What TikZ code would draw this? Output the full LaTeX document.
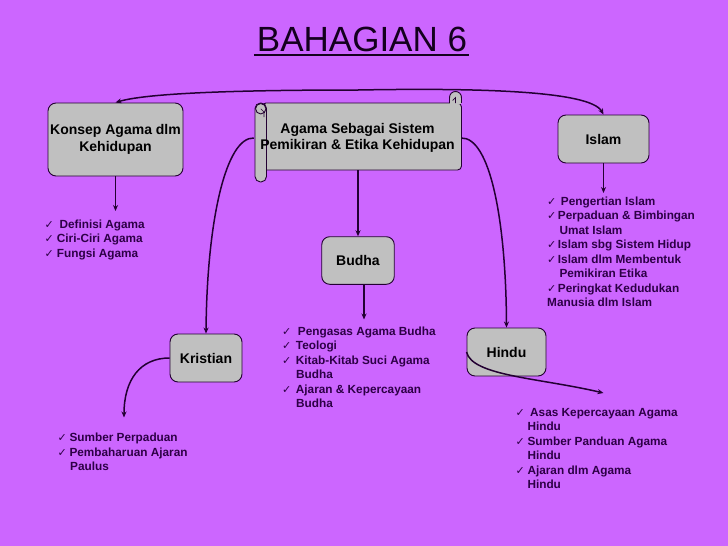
\documentclass[tikz,border=0pt]{standalone}
\usepackage{fontspec}
\setmainfont{Liberation Sans}
\newfontfamily\dejavu{DejaVu Sans}
\usetikzlibrary{arrows.meta}
\definecolor{bg}{RGB}{204,102,255}
\definecolor{boxgray}{RGB}{192,192,192}
\definecolor{ln}{RGB}{35,0,50}
\definecolor{txt}{RGB}{45,0,70}
\definecolor{ttl}{RGB}{20,0,30}
\newcommand\chk{{\dejavu\fontsize{11}{11}\selectfont ✓}}
\newcommand\itm[1]{\chk\hspace{#1pt}}
\begin{document}
\begin{tikzpicture}[x=1pt,y=-1pt,
 box/.style={draw=ln, line width=0.9pt, fill=boxgray, rounded corners=8pt, text=black,
   font=\fontsize{14}{16.5}\selectfont\bfseries, align=center, inner sep=0pt},
 conn/.style={draw=ln, line width=1.5pt},
 arr/.style={conn, -{Stealth[length=6pt,width=5pt]}},
 listtxt/.style={anchor=north west, inner sep=0pt, align=left, text=txt,
   font=\fontsize{11.8}{14.5}\selectfont\bfseries},
 scrollpart/.style={fill=boxgray, draw=ln, line width=0.9pt}]

\fill[bg] (0,0) rectangle (728,546);
\useasboundingbox (0,0) rectangle (728,546);

% title
\node[anchor=base, inner sep=0pt, text=ttl, font=\fontsize{35}{40}\selectfont] (title) at (362,51.7) {BAHAGIAN 6};
\draw[ttl, line width=2pt] ([xshift=-3pt,yshift=-3.5pt]title.base west) -- ([xshift=2pt,yshift=-3.5pt]title.base east);

% scroll shape
\filldraw[scrollpart, rounded corners=4pt] (262,103) -- (461.5,103) -- (461.5,170) -- (262,170) -- cycle;
\filldraw[scrollpart] (455.5,97.5) circle[radius=6];
\fill[boxgray] (450,97.5) rectangle (461,103.6);
\draw[ln, line width=0.9pt] (449.5,97.5) -- (449.5,103) (461.5,97.5) -- (461.5,103);
\draw[ln, line width=0.7pt] (452.5,100.5) -- (455.5,97.5) -- (455.5,103);
\filldraw[scrollpart, rounded corners=5.5pt] (255,103) rectangle (266.5,182);
\filldraw[scrollpart] (260.75,108.75) circle[radius=5.2];
\draw[ln, line width=0.7pt] (260.75,108.75) -- (264,112) -- (264,117);

\node[font=\fontsize{14}{16}\selectfont\bfseries, align=center, inner sep=0pt,
  minimum width=207pt, minimum height=64pt] (scroll) at (357.5,138)
  {Agama Sebagai Sistem\\Pemikiran \& Etika Kehidupan};

% boxes
\node[box, minimum width=135pt, minimum height=73pt] (konsep) at (115.5,139.5) {Konsep Agama dlm\\Kehidupan};
\node[box, minimum width=91pt, minimum height=48pt] (islam) at (603.5,139) {Islam};
\node[box, minimum width=72.5pt, minimum height=47.6pt] (budha) at (358,260.5) {Budha};
\node[box, minimum width=72pt, minimum height=48pt] (kristian) at (206,358) {Kristian};
\node[box, minimum width=79pt, minimum height=48pt] (hindu) at (506.5,352) {Hindu};

% lists
\node[listtxt] (lkonsep) at (44.5,219.6) {\itm{5.6}Definisi Agama\\\itm{3}Ciri-Ciri Agama\\\itm{3}Fungsi Agama};
\node[listtxt] (lislam) at (547,196.3) {\itm{4.5}Pengertian Islam\\\itm{1.5}Perpaduan \& Bimbingan\\\hspace*{12.3pt}Umat Islam\\\itm{1.5}Islam sbg Sistem Hidup\\\itm{1.5}Islam dlm Membentuk\\\hspace*{12.3pt}Pemikiran Etika\\\itm{1.5}Peringkat Kedudukan\\Manusia dlm Islam};
\node[listtxt] (lbudha) at (282,326.3) {\itm{6.5}Pengasas Agama Budha\\\itm{4.5}Teologi\\\itm{4.5}Kitab-Kitab Suci Agama\\\hspace*{14pt}Budha\\\itm{4.5}Ajaran \& Kepercayaan\\\hspace*{14pt}Budha};
\node[listtxt] (lkristian) at (57.5,433) {\itm{2.6}Sumber Perpaduan\\\itm{2.6}Pembaharuan Ajaran\\\hspace*{12.5pt}Paulus};
\node[listtxt] (lhindu) at (515.5,408) {\itm{5.3}Asas Kepercayaan Agama\\\hspace*{11.8pt}Hindu\\\itm{2.6}Sumber Panduan Agama\\\hspace*{11.8pt}Hindu\\\itm{2.6}Ajaran dlm Agama\\\hspace*{11.8pt}Hindu};

% connector end points
\coordinate (ctop) at (358,90);
\coordinate (k1) at (115.5,211);
\coordinate (i1) at (603.5,193);
\coordinate (b1) at (364,319.5);
\coordinate (k2) at (124,417.5);
\coordinate (h2) at (603.5,393);

% connectors
\draw[arr] (ctop) .. controls (260,90) and (150,92) .. (konsep.north);
\draw[arr] (ctop) .. controls (470,88) and (590,90) .. (islam.north);
\draw[arr] (konsep.south) -- (k1);
\draw[arr] (islam.south) -- (i1);
\draw[arr] (scroll.south -| budha.north) -- (budha.north);
\draw[arr] (budha.south -| b1) -- (b1);
\draw[arr] (scroll.west) .. controls (226,137) and (207,220) .. (kristian.north);
\draw[arr] (scroll.east) .. controls (490,137) and (506,220) .. (hindu.north);
\draw[arr] (kristian.west) .. controls (140,358) and (124,380) .. (k2);
\draw[arr] (hindu.west) .. controls (472,376) and (540,378) .. (h2);
\end{tikzpicture}
\end{document}
